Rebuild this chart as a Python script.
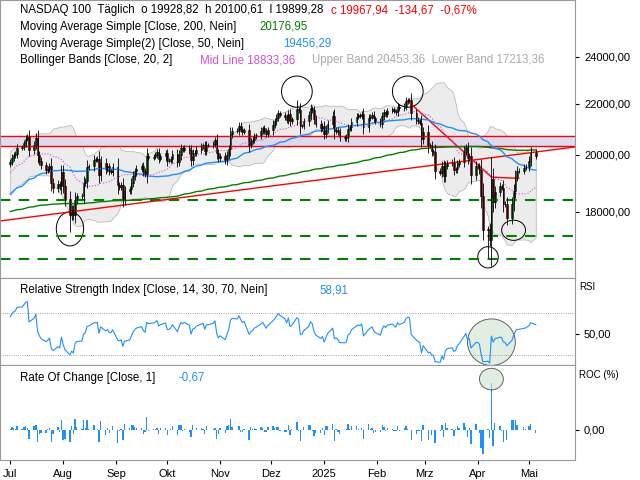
import numpy as np, pandas as pd, matplotlib
matplotlib.use("Agg")
import matplotlib.pyplot as plt, seaborn as sns
import matplotlib.dates as mdates
from matplotlib.patches import Ellipse
from matplotlib.ticker import NullLocator
plt.rcParams["font.family"]="Liberation Sans"

m2401=[16800,16550,16500,16300,16280,16650,16700,16820,16780,16830,16800,16700,16630,16900,17200,17310,17390,17350,17420,17500,17480,17200,17140]
m2402=[17340,17640,17650,17720,17780,17900,17960,17840,17500,17800,17850,17690,17570,17480,17500,18000,17950,17940,17930,17870,18040]
m2403=[18300,18280,18000,17990,18070,18240,18340,17770,18000,18040,17940,17810,17990,18040,18270,18340,18210,18180,18280,18270,18250]
m2404=[18200,18210,18090,18120,17900,18070,18200,18000,18100,18300,17880,17700,17500,17500,17400,17040,17200,17470,17530,17430,17650,17440]
m2405=[17440,17550,17540,17890,18000,18090,18120,18110,18000,18170,18200,18320,18500,18580,18620,18540,18700,18780,18520,18540,18680,18540,18540]
m2406=[18540,18730,18770,18880,18900,18800,19000,19200,19210,19200,19660,19700,19750,19900,19700,19460,19470,19700,19790,19680]
m2407=[19750,19900,20000,20050,20270,20300,20440,20620,20700,20200,20390,20650,20000,19790,19620,19450,19500,19600,19000,18800,18960,18870,19370]
m2408=[18880,18440,17880,18070,17880,18400,18520,18550,19000,19070,19550,19580,19830,19830,19870,19280,19720,19480,19580,19400,19390,19570]
m2409=[18920,18860,18920,18420,18700,18770,19000,19240,19400,19500,19590,19400,19300,19960,19900,19940,20000,20100,19870,19950,20060]
m2410=[19780,19790,19850,20030,19750,20000,20250,20200,20270,20170,19800,20060,20080,20200,20320,20360,20140,20360,20360,20430,20550,20090,19890]
m2411=[19980,19800,20000,20230,20780,20920,20900,21120,21000,20880,20930,20390,20520,20580,20700,20740,20920,21010,20900,20800,20930]
m2412=[21160,21280,21430,21600,21550,21450,21330,21580,21290,21360,21780,21730,21100,21110,21280,21520,21800,21720,21380,21200,21010,21100]
m2501=[20800,21000,21200,21500,20900,20950,20860,20660,20630,20680,21000,21050,21260,21460,21520,21490,21580,21070,21400,21470,21550,21400,21300]
m2502=[21190,21480,21650,21580,21700,21760,21700,21650,21860,21800,21900,22100,22160,22150,21600,21350,21280,21230,20600,20880]
m2503=[20350,20370,20130,20100,19430,19360,19600,19230,19590,19700,19740,19450,19480,19680,19760,20120,20280,19900,19980,19280,19580]
m2504=[19580,19436,18521,17398,17430,17091,19145,18343,18690,18870,18830,18270,18260,17810,18276,18716,19213,19432,19418,19540,19571]
m2505=[19791,20103,19968]
months=["2024-01","2024-02","2024-03","2024-04","2024-05","2024-06","2024-07","2024-08","2024-09","2024-10","2024-11","2024-12","2025-01","2025-02","2025-03","2025-04","2025-05"]
lists=[m2401,m2402,m2403,m2404,m2405,m2406,m2407,m2408,m2409,m2410,m2411,m2412,m2501,m2502,m2503,m2504,m2505]
extreme_lows={"2024-08-05":17350,"2025-04-07":16540,"2025-04-04":17100,"2025-04-21":17600}
extreme_highs={"2024-12-16":22130,"2025-02-19":22220}

dates=[];closes=[]
for m,l in zip(months,lists):
    p=pd.Period(m)
    d=pd.bdate_range(p.start_time,p.end_time)[:len(l)]
    dates+=list(d);closes+=l
df=pd.DataFrame({"date":dates,"close":closes}).set_index("date")
df["open"]=df.close.shift(1).fillna(df.close)
w=0.35*(df.close-df.open).abs()+80
df["high"]=df[["open","close"]].max(axis=1)+w
df["low"]=df[["open","close"]].min(axis=1)-w
for k,v in extreme_lows.items(): df.loc[k,"low"]=v
for k,v in extreme_highs.items(): df.loc[k,"high"]=v
df["sma200"]=df.close.rolling(200,min_periods=100).mean()
df["sma50"]=df.close.rolling(50).mean()
df["mid"]=df.close.rolling(20).mean()
sd=df.close.rolling(20).std()
df["up"]=df.mid+2*sd; df["lo"]=df.mid-2*sd
d=df.close.diff()
g=d.clip(lower=0).ewm(alpha=1/14).mean(); l=(-d.clip(upper=0)).ewm(alpha=1/14).mean()
df["rsi"]=100-100/(1+g/l)
df["roc"]=df.close.pct_change()*100
v=df.loc["2024-07-01":].copy()
v["x"]=mdates.date2num(v.index)

fig=plt.figure(figsize=(6.4,4.8),dpi=100)
W=575/640
ax=fig.add_axes([0,1-278/480,W,278/480])
ar=fig.add_axes([0,1-365/480,W,87/480])
ao=fig.add_axes([0,1-460/480,W,95/480])
x0,x1=mdates.date2num(pd.Timestamp("2024-06-25")),mdates.date2num(pd.Timestamp("2025-05-28"))
for a in (ax,ar,ao):
    a.set_xlim(x0,x1); a.yaxis.tick_right()
    a.tick_params(labelsize=8,length=3)
    for s in a.spines.values(): s.set_color("#999")
ax.set_yscale("log")
ax.set_ylim(15925,26650); ar.set_ylim(20,104); ao.set_ylim(-7.7,16.6)

ax.fill_between(v.x,v.lo,v.up,color="#ececec",lw=0.5,edgecolor="#b0b0b0")
ax.axhspan(20350,20700,color="#d8d8f0",alpha=0.9)
for y in (20700,20350): ax.axhline(y,color="red",lw=1)
for y in (18400,17200,16500): ax.axhline(y,color="green",lw=1.5,ls=(0,(5,4)))
ax.plot([x0,x1],[17700,20300],color="red",lw=1)
ax.plot(mdates.date2num(pd.to_datetime(["2025-02-19","2025-04-09","2025-04-25"])),[22100,19200,19150],color="red",lw=1)
sns.lineplot(x=v.x,y=v.sma200,ax=ax,color="green",lw=1)
sns.lineplot(x=v.x,y=v.sma50,ax=ax,color="#1e90ff",lw=1)
sns.lineplot(x=v.x,y=v.mid,ax=ax,color="#d050d0",lw=0.8,ls=":")
up=v.close>=v.open
ax.vlines(v.x,v.low,v.high,color="black",lw=0.6)
ax.bar(v.x[up],(v.close-v.open)[up].clip(lower=15),bottom=v.open[up],width=0.9,color="#22bb22",edgecolor="black",lw=0.4)
ax.bar(v.x[~up],(v.close-v.open)[~up],bottom=v.open[~up],width=0.9,color="#ee2222",edgecolor="black",lw=0.4)
for dte,y,wd,h in [("2024-08-05",17450,16,1100),("2024-12-16",22500,18,1300),("2025-02-19",22500,18,1300),("2025-04-07",16550,12,650),("2025-04-22",17400,14,650)]:
    ax.add_patch(Ellipse((mdates.date2num(pd.Timestamp(dte)),y),wd,h,fill=False,color="black",lw=0.7))
ax.yaxis.set_minor_locator(NullLocator())
ax.set_yticks([18000,20000,22000,24000]); ax.set_yticklabels(["18000,00","20000,00","22000,00","24000,00"])
ax.set_ylabel("");ax.set_xlabel("")

ar.axhline(70,color="#888",lw=0.6,ls=":");ar.axhline(30,color="#888",lw=0.6,ls=":")
sns.lineplot(x=v.x,y=v.rsi,ax=ar,color="#1e90ff",lw=0.8)
ar.add_patch(Ellipse((mdates.date2num(pd.Timestamp("2025-04-09")),42),28,45,fill=True,facecolor="#cfe3cf",alpha=0.6,edgecolor="black",lw=0.7))
ar.set_yticks([50]);ar.set_yticklabels(["50,00"]);ar.set_ylabel("");ar.set_xlabel("")
ao.bar(v.x,v.roc,width=0.8,color="#1e90ff")
ao.add_patch(Ellipse((mdates.date2num(pd.Timestamp("2025-04-09")),13),14,5.5,fill=True,facecolor="#cfe3cf",alpha=0.6,edgecolor="black",lw=0.7))
ao.set_yticks([0]);ao.set_yticklabels(["0,00"])
for a in (ax,ar): a.set_xticks(mdates.date2num(pd.date_range("2024-07-01","2025-05-01",freq="MS"))); a.set_xticklabels([])
ms=pd.date_range("2024-07-01","2025-05-01",freq="MS")
ao.set_xticks(mdates.date2num(ms))
ao.set_xticklabels(["Jul","Aug","Sep","Okt","Nov","Dez","2025","Feb","Mrz","Apr","Mai"],fontsize=8)
ao.set_xlabel("")

fs=8.3
def seg(a,x,y,s,c="black"):
    a.text(x,y,s,transform=a.transAxes,fontsize=fs,va="top",color=c)
seg(ax,0.035,0.985,"NASDAQ 100  Täglich  o 19928,82  h 20100,61  l 19899,28")
seg(ax,0.576,0.985,"c 19967,94  -134,67  -0,67%","red")
seg(ax,0.035,0.925,"Moving Average Simple [Close, 200, Nein]");seg(ax,0.452,0.925,"20176,95","green")
seg(ax,0.035,0.865,"Moving Average Simple(2) [Close, 50, Nein]");seg(ax,0.492,0.865,"19456,29","#1e90ff")
seg(ax,0.035,0.805,"Bollinger Bands [Close, 20, 2]");seg(ax,0.348,0.805,"Mid Line 18833,36","#d050d0")
seg(ax,0.543,0.805,"Upper Band 20453,36  Lower Band 17213,36","#aaaaaa")
seg(ar,0.035,0.93,"Relative Strength Index [Close, 14, 30, 70, Nein]");seg(ar,0.555,0.93,"58,91","#1e90ff")
seg(ao,0.035,0.93,"Rate Of Change [Close, 1]");seg(ao,0.31,0.93,"-0,67","#1e90ff")
fig.text(0.905,1-290/480,"RSI",fontsize=7)
fig.text(0.905,1-378/480,"ROC (%)",fontsize=7)
fig.savefig("out.png",dpi=100)
